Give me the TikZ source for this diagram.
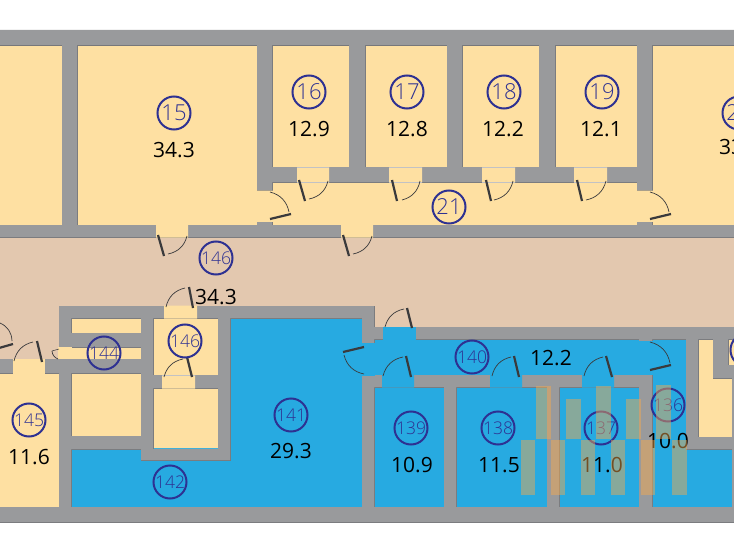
\documentclass[tikz,border=0pt]{standalone}
\usepackage{fontspec}
\setmainfont{Open Sans}
\newfontfamily\labelfont{Open Sans Light}
\definecolor{cream}{HTML}{FEE0A2}
\definecolor{beige}{HTML}{E3C8AF}
\definecolor{roomblue}{HTML}{27AAE1}
\definecolor{wallgray}{HTML}{999A9C}
\definecolor{walledge}{HTML}{77787B}
\definecolor{ink}{HTML}{2E3192}
\definecolor{doordark}{HTML}{3A3A3C}
\definecolor{stripe}{HTML}{F5A94E}
\def\wallpath{
  (-5,30) rectangle (739,45) (-5,507) rectangle (739,522)
  (62,45) rectangle (77,225) (257,45) rectangle (272,190)
  (349,45) rectangle (365,167) (447,45) rectangle (462,167)
  (539,45) rectangle (555,167) (637,45) rectangle (652,190)
  (272,167) rectangle (637,182)
  (257,222) rectangle (272,226) (637,222) rectangle (652,226)
  (-5,225) rectangle (739,237)
  (-5,359) rectangle (59,373)
  (59,306) rectangle (362,318)
  (59,306) rectangle (71,507)
  (71,333) rectangle (141,347) (71,359) rectangle (141,373)
  (71,436) rectangle (141,449)
  (141,318) rectangle (153,460) (218,318) rectangle (230,460)
  (141,449) rectangle (230,460) (153,375) rectangle (218,388)
  (362,306) rectangle (374,507)
  (374,327) rectangle (739,339)
  (374,375) rectangle (639,387)
  (444,387) rectangle (456,507) (547,387) rectangle (559,507)
  (639,339) rectangle (652,507)
  (686,339) rectangle (698,449) (698,437) rectangle (739,449)
  (732,378) rectangle (739,507)
  (713,339) rectangle (728,378) (713,365) rectangle (739,378)
}
\tikzset{
  wallline/.style={draw=walledge,line width=.8pt},
  doorleaf/.style={draw=doordark,line width=2.2pt},
  doorswing/.style={draw=doordark,line width=.7pt,bend right=32},
  gapline/.style={draw=walledge!45,line width=.3pt},
  areatext/.style={font=\fontsize{21}{21}\selectfont,text=black,inner sep=0pt},
  roomtwo/.style={circle,draw=ink,line width=2pt,minimum size=33pt,inner sep=0pt,text=ink,font=\labelfont\fontsize{22}{22}\selectfont},
  roomthree/.style={roomtwo,font=\labelfont\fontsize{17.5}{17.5}\selectfont},
  stripebar/.style={fill=stripe,fill opacity=.47}
}
\begin{document}
\begin{tikzpicture}[x=1pt,y=-1pt]
\useasboundingbox (0,0) rectangle (734,535);
\clip (0,0) rectangle (734,535);
% room fills
\fill[white] (0,0) rectangle (734,535);
\fill[cream] (0,45) rectangle (734,225);
\fill[beige] (0,237) rectangle (734,340);
\fill[beige] (0,340) rectangle (59,360);
\fill[cream] (0,373) rectangle (59,507);
\fill[roomblue] (71,318) rectangle (362,507);
\fill[roomblue] (374,339) rectangle (734,507);
\fill[cream] (71,318) rectangle (141,333) (71,347) rectangle (141,359) (71,373) rectangle (141,436);
\fill[cream] (153,318) rectangle (218,375) (153,388) rectangle (218,448);
\fill[cream] (698,339) rectangle (713,378) (698,378) rectangle (732,437) (728,339) rectangle (734,365);
% walls
\path[wallline] \wallpath;
\fill[wallgray] \wallpath;
% door openings
\fill[cream] (156,224.5) rectangle (188,237.5) (341,224.5) rectangle (373,237.5);
\fill[cream] (297,166.5) rectangle (329,182.5) (389,166.5) rectangle (422,182.5)
  (482,166.5) rectangle (515,182.5) (574,166.5) rectangle (607,182.5);
\fill[cream] (256.5,190.5) rectangle (272.5,221.5) (636.5,190.5) rectangle (652.5,221.5);
\fill[cream] (13,358.5) rectangle (45,373.5);
\fill[cream] (164,305.5) rectangle (197,318.5) (162,374.5) rectangle (195,388.5);
\fill[cream] (58,347) rectangle (71.5,359);
\fill[roomblue] (383,326.5) rectangle (416,339.5);
\fill[roomblue] (361.5,343) rectangle (374.5,376);
\fill[roomblue] (382,374.5) rectangle (414,387.5) (490,374.5) rectangle (522,387.5) (582,374.5) rectangle (614,387.5);
\fill[roomblue] (638.5,341) rectangle (652.5,375);
\draw[gapline] (297,167) -- (329,167) (297,182) -- (329,182) (389,167) -- (422,167) (389,182) -- (422,182)
  (482,167) -- (515,167) (482,182) -- (515,182) (574,167) -- (607,167) (574,182) -- (607,182)
  (162,375) -- (195,375);
% doors
\draw[doorleaf] (158,235) -- (164,256);
\draw[doorswing] (168,254) to (187,236);
\draw[doorleaf] (343,235) -- (349,256);
\draw[doorswing] (353,254) to (372,236);
\draw[doorleaf] (299,180) -- (305,201);
\draw[doorswing] (309,199) to (328,181);
\draw[doorleaf] (392,180) -- (397,201);
\draw[doorswing] (402,200) to (420,181);
\draw[doorleaf] (486,180) -- (491,201);
\draw[doorswing] (494,200) to (513,181);
\draw[doorleaf] (577,180) -- (582,201);
\draw[doorswing] (586,200) to (606,181);
\draw[doorleaf] (270,219) -- (291,214);
\draw[doorswing] (289,212) to (270,192);
\draw[doorleaf] (650,219) -- (671,214);
\draw[doorswing] (669,212) to (650,192);
\draw[doorleaf] (189,287) -- (193,308);
\draw[doorswing] (185,288) to (166,307);
\draw[doorleaf] (37,341) -- (42,362);
\draw[doorswing] (33,342) to (14,361);
\draw[doorleaf] (-1,348) -- (13,344);
\draw[doorswing] (12,341) to (0,323);
\draw[doorleaf] (187,357) -- (192,377);
\draw[doorswing] (183,359) to (164,377);
\draw[draw=doordark,line width=.5pt] (52,351) -- (59,349);
\draw[doorswing] (52,351) to (58,359);
\draw[doorleaf] (407,308) -- (412,328);
\draw[doorswing] (404,309) to (385,327);
\draw[doorleaf] (343,352) -- (364,347);
\draw[doorswing] (344,355) to (364,374);
\draw[doorleaf] (406,356) -- (411,377);
\draw[doorswing] (403,357) to (383,376);
\draw[doorleaf] (514,356) -- (519,377);
\draw[doorswing] (511,357) to (492,376);
\draw[doorleaf] (606,356) -- (612,377);
\draw[doorswing] (603,357) to (584,376);
\draw[doorleaf] (650,370) -- (671,365);
\draw[doorswing] (670,363) to (650,342);
% room numbers
\node[roomtwo] (r15) at (174,113) {15};
\node[roomtwo] (r16) at (309,92) {16};
\node[roomtwo] (r17) at (407,92) {17};
\node[roomtwo] (r18) at (504,92) {18};
\node[roomtwo] (r19) at (602,92) {19};
\node[roomtwo] (r20) at (739,113) {20};
\node[roomtwo] (r21) at (449,207) {21};
\node[roomthree] (r146a) at (216,258) {146};
\node[roomthree] (r146b) at (185,341) {146};
\node[roomthree] (r144) at (104,353) {144};
\node[roomthree] (r145) at (29,420) {145};
\node[roomthree] (r142) at (170,482) {142};
\node[roomthree] (r141) at (291,415) {141};
\node[roomthree] (r140) at (472,357) {140};
\node[roomthree] (r139) at (411,428) {139};
\node[roomthree] (r138) at (498,428) {138};
\node[roomthree] (r137) at (601,428) {137};
\node[roomthree] (r136) at (668,405) {136};
\node[roomthree] (r135) at (747,350) {135};
% areas
\node[areatext] (a15) at (174,150) {34.3};
\node[areatext] (a16) at (309,129) {12.9};
\node[areatext] (a17) at (407,129) {12.8};
\node[areatext] (a18) at (503,129) {12.2};
\node[areatext] (a19) at (601,129) {12.1};
\node[areatext] (a20) at (740,147) {33.3};
\node[areatext] (a146) at (216,297) {34.3};
\node[areatext] (a145) at (29,457) {11.6};
\node[areatext] (a141) at (291,451) {29.3};
\node[areatext] (a140) at (551,358) {12.2};
\node[areatext] (a139) at (412,465) {10.9};
\node[areatext] (a138) at (499,465) {11.5};
\node[areatext] (a137) at (602,465) {11.0};
\node[areatext] (a136) at (668,441) {10.0};
% translucent stripes
\fill[stripebar] (536,386) rectangle (551,439);
\fill[stripebar] (566,399) rectangle (581,439);
\fill[stripebar] (596,386) rectangle (611,439);
\fill[stripebar] (626,399) rectangle (641,439);
\fill[stripebar] (656,385) rectangle (671,439);
\fill[stripebar] (521,440) rectangle (535,495);
\fill[stripebar] (551,440) rectangle (565,495);
\fill[stripebar] (581,440) rectangle (595,495);
\fill[stripebar] (611,440) rectangle (625,495);
\fill[stripebar] (641,440) rectangle (655,495);
\fill[stripebar] (672,440) rectangle (687,495);
\end{tikzpicture}
\end{document}
